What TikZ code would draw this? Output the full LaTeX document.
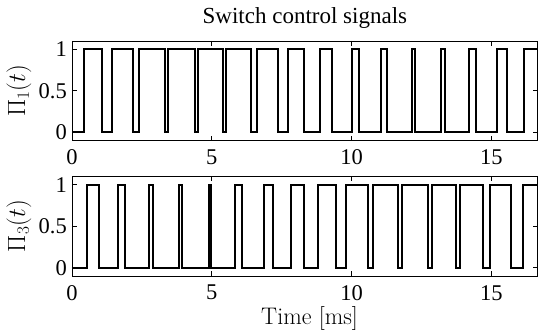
\documentclass[tikz,border=0pt]{standalone}
\usepackage{fontspec}
\usepackage{amsmath}
\newfontfamily\timesfont{Liberation Serif}

% rise/fall times in ms
\newcommand{\pulsesone}{0.44/1.08, 1.44/2.19, 2.41/3.32, 3.45/4.41, 4.51/5.39,
  5.52/6.39, 6.63/7.36, 7.74/8.31, 8.87/9.29, 10.02/10.27, 11.07/11.26,
  12.18/12.28, 13.20/13.35, 14.21/14.45, 15.19/15.55}
\newcommand{\pulsesthree}{0.55/0.98, 1.66/1.90, 2.75/2.89, 3.84/3.95, 4.89/4.98,
  5.83/6.07, 6.87/7.20, 7.84/8.30, 8.81/9.46, 9.79/10.58, 10.78/11.65,
  11.79/12.75, 12.87/13.74, 13.88/14.72, 14.96/15.71}

\begin{document}
\begin{tikzpicture}[x=27.95pt, y=83pt]
  \tikzstyle{every node}=[inner sep=0pt]
  \tikzstyle{frame}=[draw=black, line width=0.8pt]
  \tikzstyle{tickmark}=[line width=0.6pt]
  \tikzstyle{wave}=[line width=2pt, line join=miter]
  \tikzstyle{ticklabel}=[font=\timesfont\fontsize{22.5}{26}\selectfont]
  \tikzstyle{titlefont}=[font=\timesfont\fontsize{23}{27}\selectfont]
  \tikzstyle{axislabel}=[font=\fontsize{24}{28}\selectfont]
  \useasboundingbox (-72pt,-63.3pt) rectangle ++(538pt,331pt);

  % upper plot
  \begin{scope}[yshift=135.4pt]
    \draw[frame] (0,-0.1) rectangle (16.667,1.1);
    \foreach \t in {0,5,10,15} {
      \draw[tickmark] (\t,-0.1) -- ++(0,5pt) (\t,1.1) -- ++(0,-5pt);
      \node[ticklabel, anchor=north] (xtone-\t) at ([yshift=-9pt]\t,-0.1) {\t};
    }
    \foreach \v [count=\i] in {0,0.5,1} {
      \draw[tickmark] (0,\v) -- ++(5pt,0) (16.667,\v) -- ++(-5pt,0);
      \node[ticklabel, anchor=east] (ytone-\i) at ([xshift=-5pt]0,\v) {\v};
    }
    \draw[wave] (0,0) foreach \r/\f in \pulsesone {-| (\r,1) -| (\f,0)}
      -| (16.18,1) -- (16.667,1);
    \node[axislabel, rotate=90] (ylabone) at ([xshift=-53pt]0,0.5) {$\Pi_1(t)$};
    \node[titlefont, anchor=base] (title) at (8.333,1.305) {Switch control signals};
  \end{scope}

  % lower plot
  \begin{scope}
    \draw[frame] (0,-0.1) rectangle (16.667,1.1);
    \foreach \t in {0,5,10,15} {
      \draw[tickmark] (\t,-0.1) -- ++(0,5pt) (\t,1.1) -- ++(0,-5pt);
      \node[ticklabel, anchor=north] (xtthree-\t) at ([yshift=-9pt]\t,-0.1) {\t};
    }
    \foreach \v [count=\i] in {0,0.5,1} {
      \draw[tickmark] (0,\v) -- ++(5pt,0) (16.667,\v) -- ++(-5pt,0);
      \node[ticklabel, anchor=east] (ytthree-\i) at ([xshift=-5pt]0,\v) {\v};
    }
    \draw[wave] (0,0) foreach \r/\f in \pulsesthree {-| (\r,1) -| (\f,0)}
      -| (16.12,1) -- (16.667,1);
    \node[axislabel, rotate=90] (ylabthree) at ([xshift=-53pt]0,0.5) {$\Pi_3(t)$};
    \node[axislabel, anchor=base] (xlab) at (8.5,-0.69) {Time [ms]};
  \end{scope}
\end{tikzpicture}
\end{document}
